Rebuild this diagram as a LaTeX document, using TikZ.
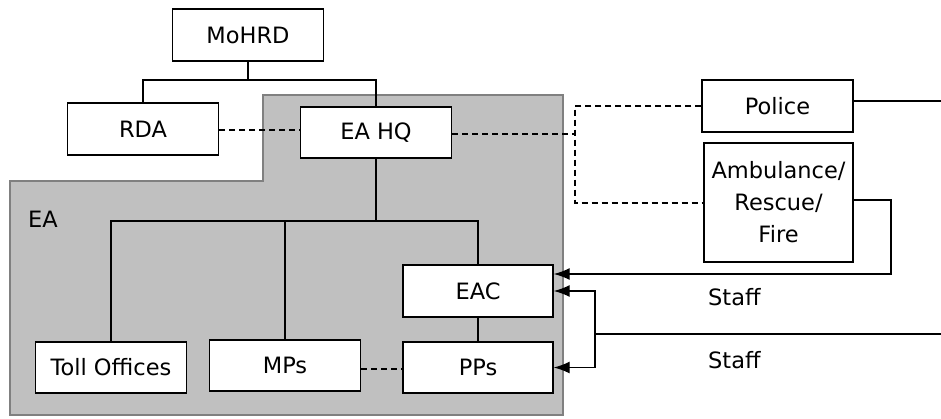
\documentclass[tikz,border=0pt]{standalone}
\usepackage{fontspec}
\setmainfont{DejaVu Sans}
\usetikzlibrary{arrows.meta}
\definecolor{eagray}{HTML}{C0C0C0}
\definecolor{eaedge}{HTML}{808080}
\tikzset{
  orgbox/.style={draw=black, fill=white, line width=1.4pt, minimum width=151pt, minimum height=52pt, inner sep=0pt, font=\fontsize{22.5}{32}\selectfont},
  link/.style={line width=1.4pt},
  dlink/.style={line width=1.4pt, dash pattern=on 6pt off 4pt},
  arr/.style={line width=1.4pt, -{Latex[length=16pt,width=12pt]}},
  lbl/.style={font=\fontsize{22.5}{26}\selectfont, inner sep=0pt}
}
\begin{document}
\begin{tikzpicture}[x=1pt,y=-1pt]
\useasboundingbox (0,0) rectangle (941,418);
\fill[eagray, draw=eaedge, line width=1.2pt] (263,95) -- (563,95) -- (563,415) -- (10,415) -- (10,181) -- (263,181) -- cycle;
\node[lbl, anchor=west] (ealbl) at (28,219) {EA};

\node[orgbox] (MoHRD) at (248,35) {MoHRD};
\node[orgbox] (RDA) at (143,129) {RDA};
\node[orgbox, minimum height=51pt] (EAHQ) at (376,132.5) {EA HQ};
\node[orgbox] (Police) at (777.5,106) {Police};
\node[orgbox, minimum width=149pt, minimum height=119pt, align=center] (Amb) at (778.5,202.5) {Ambulance/\\Rescue/\\Fire};
\node[orgbox, minimum width=150pt] (EAC) at (478,291) {EAC};
\node[orgbox, minimum width=150pt, minimum height=51pt] (PPs) at (478,367.5) {PPs};
\node[orgbox, minimum height=51pt] (MPs) at (285,365.5) {MPs};
\node[orgbox, minimum height=51pt] (Toll) at (111,367.5) {Toll Offices};

\node[lbl, anchor=west] (staff1) at (708,297) {Staff};
\node[lbl, anchor=west] (staff2) at (708,360) {Staff};

\coordinate (j1) at (248,80);
\coordinate (j2) at (376,221);
\coordinate (rd) at (0,130);
\coordinate (d1) at (575,134);
\coordinate (d2) at (575,203);
\coordinate (mp) at (0,369);
\coordinate (pe) at (941,101);
\coordinate (ae) at (891,200);
\coordinate (ain) at (891,274);
\coordinate (s0) at (941,334);
\coordinate (s1) at (595,334);

\draw[link] (MoHRD.south) -- (j1);
\draw[link] (RDA.north) |- (j1) -| (EAHQ.north);
\draw[link] (EAHQ.south) -- (j2);
\draw[link] (Toll.north) |- (j2);
\draw[link] (MPs.north) -- (MPs.north |- j2);
\draw[line width=2.2pt] (j2) -| (EAC.north);
\draw[link] (EAC.south) -- (PPs.north);

\draw[dlink] (RDA.east |- rd) -- (EAHQ.west |- rd);
\draw[dlink] (EAHQ.east |- d1) -- (d1);
\draw[dlink] (Police.west) -| (d1) -- (d2) -- (Amb.west |- d2);
\draw[dlink] (MPs.east |- mp) -- (PPs.west |- mp);

\draw[link] (Police.east |- pe) -- (pe);
\draw[arr] (Amb.east |- ae) -- (ae) -- (ain) -- (ain -| EAC.east);
\draw[link] (s0) -- (s1);
\draw[arr] (s1) |- (EAC.east);
\draw[arr] (s1) |- (PPs.east);
\end{tikzpicture}
\end{document}
